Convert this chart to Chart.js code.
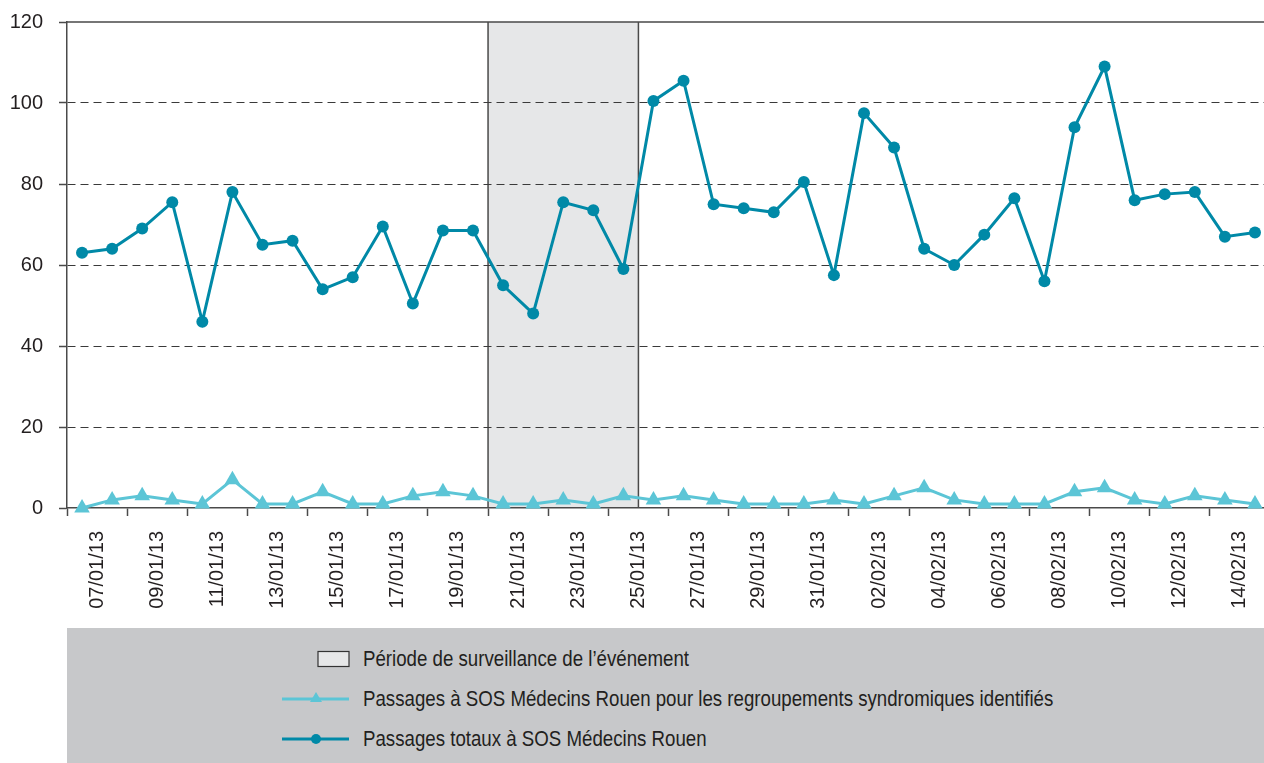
<!DOCTYPE html>
<html lang="fr">
<head>
<meta charset="utf-8">
<title>Passages à SOS Médecins Rouen</title>
<script src="https://cdn.jsdelivr.net/npm/chart.js@4/dist/chart.umd.min.js"></script>
<style>
  body { margin: 0; background: #fff; overflow: hidden; }
  #wrap { position: relative; width: 1264px; height: 763px; overflow: hidden; }
  #chart { position: absolute; left: 0; top: 0; }
  #legend {
    position: absolute; left: 67px; top: 628px; width: 1197px; height: 135px;
    background: #c7c8ca; color: #231f20;
    font-family: 'Liberation Sans', Arial, sans-serif; font-size: 22.5px;
  }
  .item { position: absolute; left: 215px; height: 30px; display: flex; align-items: center; white-space: nowrap; }
  .item svg { width: 68px; height: 30px; margin-right: 13px; flex: none; }
  .item span { display: inline-block; transform: scaleX(0.83); transform-origin: left center; }
</style>
</head>
<body>
<div id="wrap">
  <!-- plot runs slightly past the right edge, as in the cropped original -->
  <canvas id="chart" width="1270" height="628"></canvas>
  <div id="legend">
    <div class="item" style="top:16px">
      <svg viewBox="0 0 68 30"><rect x="36" y="7.5" width="31" height="15" fill="#e6e7e8" stroke="#333" stroke-width="1.2"/></svg>
      <span>Période de surveillance de l’événement</span>
    </div>
    <div class="item" style="top:56px">
      <svg viewBox="0 0 68 30"><line x1="0" y1="15" x2="67" y2="15" stroke="#5cc5d6" stroke-width="3"/><polygon points="34,8 40,18 28,18" fill="#5cc5d6"/></svg>
      <span>Passages à SOS Médecins Rouen pour les regroupements syndromiques identifiés</span>
    </div>
    <div class="item" style="top:96px">
      <svg viewBox="0 0 68 30"><line x1="0" y1="15" x2="67" y2="15" stroke="#0089a7" stroke-width="3"/><circle cx="34" cy="15" r="5" fill="#0089a7"/></svg>
      <span>Passages totaux à SOS Médecins Rouen</span>
    </div>
  </div>
</div>
<script>
var dates = [
  '07/01/13', '08/01/13', '09/01/13', '10/01/13', '11/01/13', '12/01/13', '13/01/13', '14/01/13',
  '15/01/13', '16/01/13', '17/01/13', '18/01/13', '19/01/13', '20/01/13', '21/01/13', '22/01/13',
  '23/01/13', '24/01/13', '25/01/13', '26/01/13', '27/01/13', '28/01/13', '29/01/13', '30/01/13',
  '31/01/13', '01/02/13', '02/02/13', '03/02/13', '04/02/13', '05/02/13', '06/02/13', '07/02/13',
  '08/02/13', '09/02/13', '10/02/13', '11/02/13', '12/02/13', '13/02/13', '14/02/13', '15/02/13'
];

var totalPassages = [
  63, 64, 69, 75.5, 46, 78, 65, 66, 54, 57,
  69.5, 50.5, 68.5, 68.5, 55, 48, 75.5, 73.5, 59, 100.5,
  105.5, 75, 74, 73, 80.5, 57.5, 97.5, 89, 64, 60,
  67.5, 76.5, 56, 94, 109, 76, 77.5, 78, 67, 68
];

var syndromicPassages = [
  0, 2, 3, 2, 1, 7, 1, 1, 4, 1,
  1, 3, 4, 3, 1, 1, 2, 1, 3, 2,
  3, 2, 1, 1, 1, 2, 1, 3, 5, 2,
  1, 1, 1, 4, 5, 2, 1, 3, 2, 1
];

var yTicks = [0, 20, 40, 60, 80, 100, 120];

// surveillance period (first and last day shaded)
var periodStart = '21/01/13';
var periodEnd = '25/01/13';

var fontFamily = "'Liberation Sans', Arial, sans-serif";
var textColor = '#231f20';
var axisColor = '#4a4a4a';

// grey band + top frame, drawn under the grid lines
var periodPlugin = {
  id: 'period',
  beforeDraw: function(chart) {
    var ctx = chart.ctx;
    var area = chart.chartArea;
    var x = chart.scales.x;
    var half = (x.getPixelForValue(1) - x.getPixelForValue(0)) / 2;
    var x1 = x.getPixelForValue(dates.indexOf(periodStart)) - half;
    var x2 = x.getPixelForValue(dates.indexOf(periodEnd)) + half;
    ctx.save();
    ctx.fillStyle = '#e6e7e8';
    ctx.fillRect(x1, area.top, x2 - x1, area.bottom - area.top);
    ctx.strokeStyle = axisColor;
    ctx.lineWidth = 1.5;
    ctx.beginPath();
    ctx.moveTo(x1, area.top);
    ctx.lineTo(x1, area.bottom);
    ctx.moveTo(x2, area.top);
    ctx.lineTo(x2, area.bottom);
    ctx.moveTo(area.left, area.top);
    ctx.lineTo(chart.width, area.top);
    ctx.stroke();
    ctx.restore();
  }
};

var ctx = document.getElementById('chart').getContext('2d');

new Chart(ctx, {
  type: 'line',
  data: {
    labels: dates,
    datasets: [
      {
        label: 'Passages totaux à SOS Médecins Rouen',
        data: totalPassages,
        borderColor: '#0089a7',
        backgroundColor: '#0089a7',
        borderWidth: 3,
        pointRadius: 6,
        pointHoverRadius: 6,
        pointBorderWidth: 0,
        tension: 0,
        clip: false
      },
      {
        label: 'Passages à SOS Médecins Rouen pour les regroupements syndromiques identifiés',
        data: syndromicPassages,
        borderColor: '#5cc5d6',
        backgroundColor: '#5cc5d6',
        borderWidth: 3,
        pointStyle: 'triangle',
        pointRadius: 9,
        pointHoverRadius: 9,
        pointBorderWidth: 0,
        tension: 0,
        clip: false
      }
    ]
  },
  options: {
    responsive: false,
    animation: false,
    layout: { autoPadding: false, padding: { top: 22, right: 0, left: 0, bottom: 0 } },
    plugins: {
      legend: { display: false },
      tooltip: { enabled: false }
    },
    scales: {
      x: {
        offset: true,
        afterFit: function(scale) {
          scale.height = 120;
          scale.paddingLeft = 0;
          scale.paddingRight = 0;
        },
        grid: {
          offset: true,
          drawOnChartArea: false,
          tickLength: 8,
          tickWidth: 1.5,
          tickColor: function(c) { return c.index % 2 === 0 ? axisColor : 'transparent'; }
        },
        border: { color: axisColor, width: 1.5 },
        ticks: {
          autoSkip: false,
          minRotation: 90,
          maxRotation: 90,
          padding: 15,
          labelOffset: 15,
          color: textColor,
          font: { family: fontFamily, size: 20 },
          callback: function(value, index) { return index % 2 === 0 ? dates[index] : ''; }
        }
      },
      y: {
        min: 0,
        max: 120,
        afterFit: function(scale) {
          scale.width = 67;
          scale.paddingTop = 0;
          scale.paddingBottom = 0;
        },
        afterBuildTicks: function(scale) {
          scale.ticks = yTicks.map(function(v) { return { value: v }; });
        },
        grid: {
          color: function(c) { return (c.tick && (c.tick.value === 0 || c.tick.value === 120)) ? 'transparent' : '#3a3a3a'; },
          lineWidth: 1,
          tickLength: 8,
          tickColor: axisColor,
          tickWidth: 1.5
        },
        border: { color: axisColor, width: 1.5, dash: [8, 5] },
        ticks: {
          padding: 16,
          color: textColor,
          font: { family: fontFamily, size: 20 }
        }
      }
    }
  },
  plugins: [periodPlugin]
});
</script>
</body>
</html>
